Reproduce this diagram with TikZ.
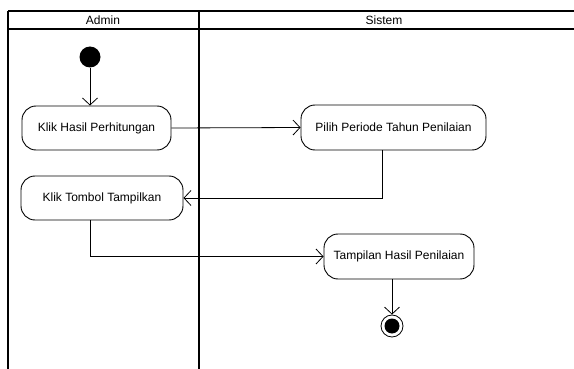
\documentclass[tikz,border=0pt]{standalone}
\usepackage{fontspec}
\setmainfont{Liberation Sans}
\usetikzlibrary{arrows.meta}

\begin{document}
\begin{tikzpicture}[x=1pt, y=-1pt,
  lane/.style={line width=1.8pt, black},
  act/.style={draw, line width=0.9pt, rounded corners=14pt, minimum height=44pt,
    inner sep=0pt, font=\fontsize{12}{14}\selectfont},
  flow/.style={line width=0.8pt, -{Straight Barb[length=7pt, width=15pt, line width=0.8pt]}}]
  \useasboundingbox (0,0) rectangle (574,369);

  % Swimlanes
  \draw[lane] (8,11) -- (574,11);   % top
  \draw[lane] (8,29) -- (574,29);   % header bottom
  \draw[lane] (8,11) -- (8,369);    % left border
  \draw[lane] (199,11) -- (199,369); % divider
  \node[font=\fontsize{12}{14}\selectfont] (admin) at (103,20) {Admin};
  \node[font=\fontsize{12}{14}\selectfont] (sistem) at (384,20) {Sistem};

  % Start and end
  \node[circle, fill=black, minimum size=21pt, inner sep=0pt] (start) at (90,57) {};
  \node[circle, draw, line width=0.8pt, minimum size=22pt, inner sep=0pt] (end) at (392,326) {};
  \fill (end) circle (7.5pt);

  % Activities
  \node[act, minimum width=149pt] (hasil) at (96.5,128) {Klik Hasil Perhitungan};
  \node[act, minimum width=185pt, minimum height=45pt] (pilih) at (393.5,127.5) {Pilih Periode Tahun Penilaian};
  \node[act, minimum width=162pt] (tombol) at (102,198) {Klik Tombol Tampilkan};
  \node[act, minimum width=150pt, minimum height=45pt] (tampil) at (399,256.5) {Tampilan Hasil Penilaian};

  % Flows
  \draw[flow] (start) -- (start |- hasil.north);
  \draw[flow] (hasil.east) -- (pilih.west);
  \draw[flow] ([xshift=-11.5pt]pilih.south) |- (tombol.east);
  \draw[flow] ([xshift=-12pt]tombol.south) |- (tampil.west);
  \draw[flow] (end |- tampil.south) -- (end.north);
\end{tikzpicture}
\end{document}
